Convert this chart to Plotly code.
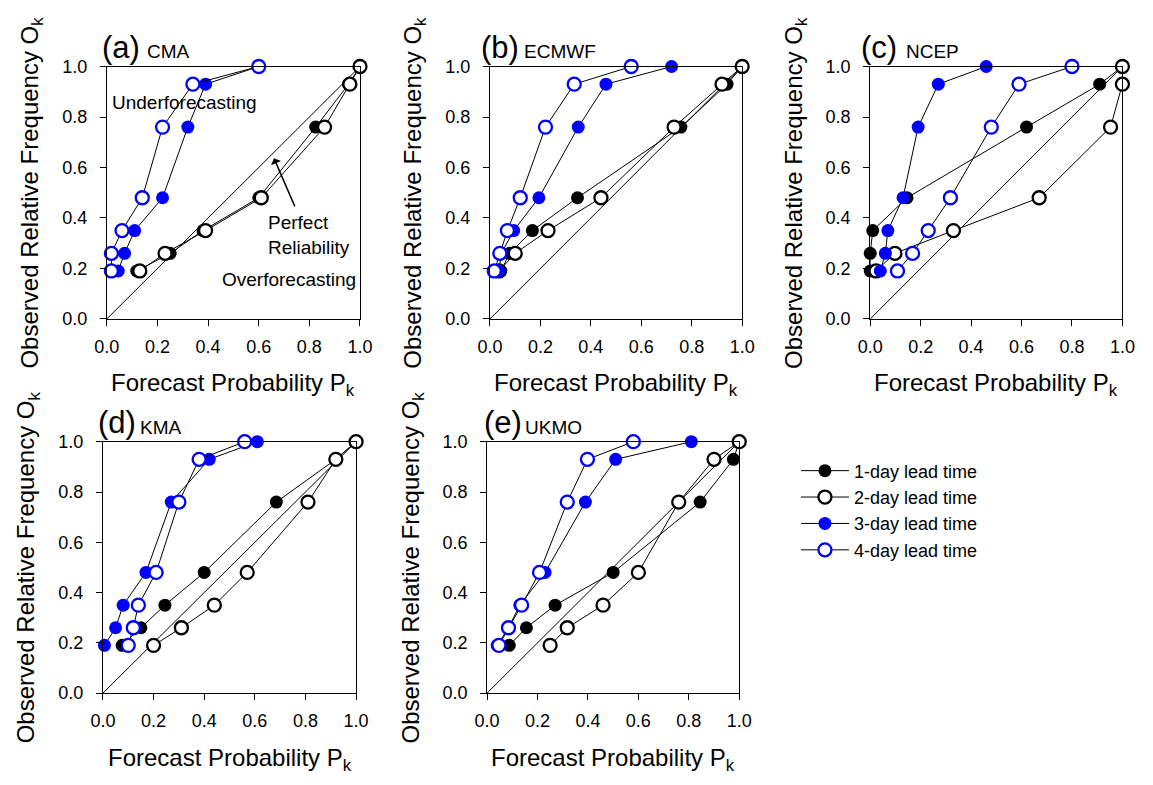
import plotly.graph_objects as go

# Observed relative frequency levels (shared by every panel and lead time)
obs_freq = [0.19, 0.26, 0.35, 0.48, 0.76, 0.93, 1.0]

lead_names = ["1-day lead time", "2-day lead time", "3-day lead time", "4-day lead time"]

# Forecast probabilities for each centre, one list per lead time (1..4 days)
cma_1 = [0.118, 0.25, 0.38, 0.60, 0.825, 0.955, 1.0]
cma_2 = [0.13, 0.23, 0.39, 0.61, 0.86, 0.96, 1.0]
cma_3 = [0.045, 0.07, 0.11, 0.22, 0.32, 0.39, 0.60]
cma_4 = [0.018, 0.018, 0.06, 0.14, 0.22, 0.34, 0.60]

ecmwf_1 = [0.043, 0.078, 0.168, 0.347, 0.757, 0.94, 1.0]
ecmwf_2 = [0.036, 0.10, 0.23, 0.44, 0.73, 0.92, 1.0]
ecmwf_3 = [0.035, 0.045, 0.094, 0.194, 0.35, 0.46, 0.72]
ecmwf_4 = [0.017, 0.039, 0.069, 0.12, 0.22, 0.334, 0.56]

ncep_1 = [0.0, 0.0, 0.01, 0.146, 0.62, 0.91, 1.0]
ncep_2 = [0.023, 0.098, 0.33, 0.67, 0.953, 1.0, 1.0]
ncep_3 = [0.04, 0.06, 0.07, 0.13, 0.19, 0.27, 0.46]
ncep_4 = [0.108, 0.168, 0.23, 0.318, 0.48, 0.59, 0.80]

kma_1 = [0.076, 0.15, 0.245, 0.40, 0.685, 0.92, 1.0]
kma_2 = [0.20, 0.31, 0.44, 0.57, 0.81, 0.92, 1.0]
kma_3 = [0.006, 0.05, 0.08, 0.17, 0.27, 0.42, 0.61]
kma_4 = [0.10, 0.12, 0.14, 0.21, 0.30, 0.38, 0.56]

ukmo_1 = [0.088, 0.156, 0.27, 0.50, 0.845, 0.977, 1.0]
ukmo_2 = [0.25, 0.318, 0.46, 0.60, 0.76, 0.90, 1.0]
ukmo_3 = [0.04, 0.085, 0.13, 0.23, 0.39, 0.51, 0.81]
ukmo_4 = [0.047, 0.085, 0.137, 0.208, 0.318, 0.398, 0.58]

panel_tags = ["(a)", "(b)", "(c)", "(d)", "(e)"]
centre_names = ["CMA", "ECMWF", "NCEP", "KMA", "UKMO"]
centre_data = [
    [cma_1, cma_2, cma_3, cma_4],
    [ecmwf_1, ecmwf_2, ecmwf_3, ecmwf_4],
    [ncep_1, ncep_2, ncep_3, ncep_4],
    [kma_1, kma_2, kma_3, kma_4],
    [ukmo_1, ukmo_2, ukmo_3, ukmo_4],
]

W, H = 1153, 785
FONT = "Liberation Sans, Arial, sans-serif"

# plot-area boxes in pixels: left, right, top, bottom
boxes = [
    (96, 355, 58, 317),
    (488, 746, 58, 317),
    (877, 1135, 58, 317),
    (92, 351, 443, 701),
    (485, 743, 443, 701),
]
# panel tag / centre name left edges in pixels
tag_x = [89, 477, 866, 85, 480]
name_x = [135, 521, 912, 128, 522]

# marker styles per lead time: (fill, outline)
styles = [
    ("black", "black"),
    ("white", "black"),
    ("#0000ff", "#0000ff"),
    ("white", "#0000ff"),
]

fig = go.Figure()
layout_axes = {}
annotations = []

for i in range(5):
    n = i + 1
    xa = "x" if n == 1 else f"x{n}"
    ya = "y" if n == 1 else f"y{n}"
    l, r, t, b = boxes[i]

    # perfect reliability diagonal
    fig.add_trace(go.Scatter(
        x=[0, 1], y=[0, 1], mode="lines", line=dict(color="black", width=1),
        showlegend=False, hoverinfo="skip", xaxis=xa, yaxis=ya,
    ))

    for k in range(4):
        fill, edge = styles[k]
        fig.add_trace(go.Scatter(
            x=centre_data[i][k], y=obs_freq, mode="lines+markers",
            name=lead_names[k], legendgroup=lead_names[k], showlegend=(i == 0),
            line=dict(color="black", width=1),
            marker=dict(size=13, color=fill,
                        line=dict(color=edge, width=2.3 if fill == "white" else 0)),
            cliponaxis=False, xaxis=xa, yaxis=ya,
        ))

    axis_common = dict(
        range=[0, 1], tickvals=[0, 0.2, 0.4, 0.6, 0.8, 1.0],
        ticktext=["0.0", "0.2", "0.4", "0.6", "0.8", "1.0"],
        ticks="outside", ticklen=6, tickwidth=1, tickcolor="black",
        showline=True, linecolor="black", linewidth=1, mirror=True,
        showgrid=False, zeroline=False,
        tickfont=dict(family=FONT, size=18, color="black"),
        fixedrange=True,
    )
    layout_axes["xaxis" if n == 1 else f"xaxis{n}"] = dict(
        axis_common, domain=[l / W, r / W], anchor=ya, ticklabelstandoff=5,
    )
    layout_axes["yaxis" if n == 1 else f"yaxis{n}"] = dict(
        axis_common, domain=[1 - b / H, 1 - t / H], anchor=xa, ticklabelstandoff=9,
    )

    xd = f"{xa} domain"
    yd = f"{ya} domain"
    # axis titles
    annotations.append(dict(
        text="Forecast Probability P<sub>k</sub>", xref=xd, yref=yd, x=0.5, y=0,
        xanchor="center", yanchor="middle", yshift=-66, showarrow=False,
        font=dict(family=FONT, size=24, color="black"),
    ))
    annotations.append(dict(
        text="Observed Relative Frequency O<sub>k</sub>", xref=xd, yref=yd, x=0, y=0.5,
        xanchor="center", yanchor="middle", xshift=-75, textangle=-90, showarrow=False,
        font=dict(family=FONT, size=24, color="black"),
    ))
    # panel tag and centre name
    annotations.append(dict(
        text=panel_tags[i], xref="paper", yref="paper", x=tag_x[i] / W, y=1 - (t - 20) / H,
        xanchor="left", yanchor="middle", showarrow=False,
        font=dict(family=FONT, size=31, color="black"),
    ))
    annotations.append(dict(
        text=centre_names[i], xref="paper", yref="paper", x=name_x[i] / W, y=1 - (t - 15) / H,
        xanchor="left", yanchor="middle", showarrow=False,
        font=dict(family=FONT, size=19, color="black"),
    ))

# explanatory labels in panel (a)
label_font = dict(family=FONT, size=19, color="black")
annotations += [
    dict(text="Underforecasting", xref="x", yref="y", x=0.305, y=0.857,
         xanchor="center", yanchor="middle", showarrow=False, font=label_font),
    dict(text="Perfect<br>Reliability", xref="x", yref="y", x=0.629, y=0.334,
         xanchor="left", yanchor="middle", align="left", showarrow=False, font=label_font),
    dict(text="Overforecasting", xref="x", yref="y", x=0.448, y=0.158,
         xanchor="left", yanchor="middle", showarrow=False, font=label_font),
    dict(text="", xref="x", yref="y", x=0.66, y=0.637, axref="x", ayref="y",
         ax=0.745, ay=0.44, showarrow=True, arrowhead=1, arrowsize=1.2,
         arrowwidth=1.5, arrowcolor="black"),
]

fig.update_layout(
    width=W, height=H,
    margin=dict(l=0, r=0, t=0, b=0),
    paper_bgcolor="white", plot_bgcolor="white",
    font=dict(family=FONT, color="black"),
    showlegend=True,
    legend=dict(
        x=801 / W, y=1 - 454 / H, xanchor="left", yanchor="top",
        font=dict(family=FONT, size=18, color="black"),
        bgcolor="rgba(0,0,0,0)", borderwidth=0, tracegroupgap=0, itemwidth=48,
    ),
    annotations=annotations,
    **layout_axes,
)

page_style = (
    "document.documentElement.style.margin='0';"
    "document.body.style.margin='0';"
)
fig.write_html("out.html", post_script=page_style)
